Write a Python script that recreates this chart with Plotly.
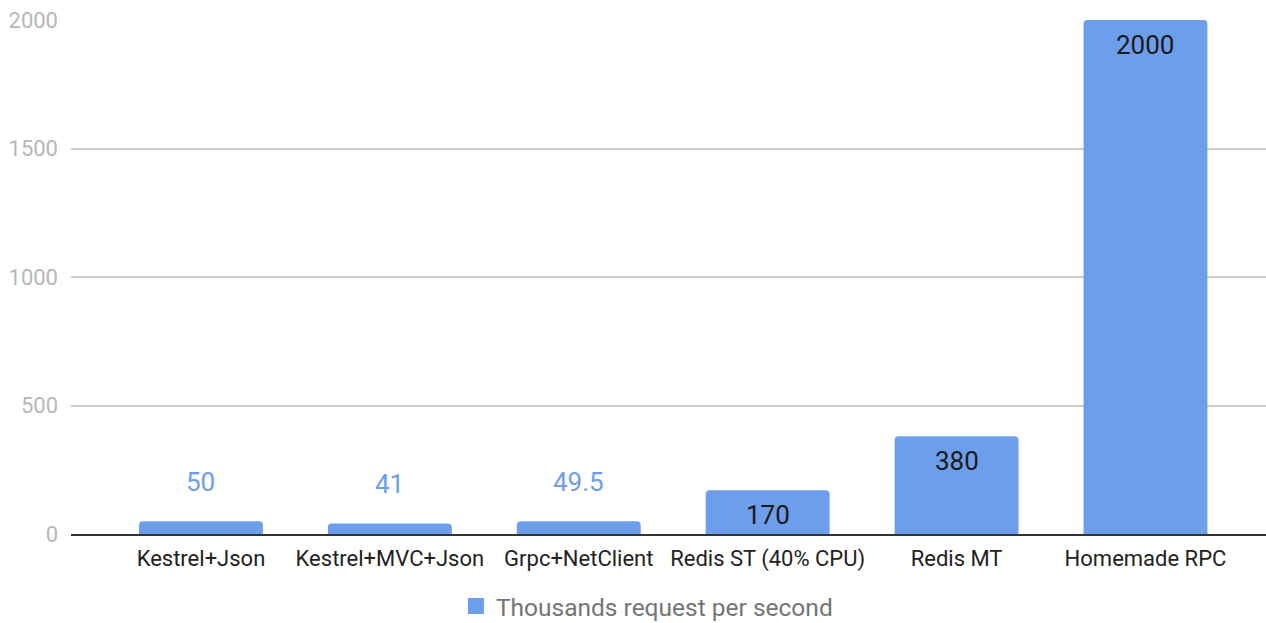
import plotly.graph_objects as go

categories = ["Kestrel+Json", "Kestrel+MVC+Json", "Grpc+NetClient",
              "Redis ST (40% CPU)", "Redis MT", "Homemade RPC"]
values = [50, 41, 49.5, 170, 380, 2000]
labels = ["50", "41", "49.5", "170", "380", "2000"]
series_name = "Thousands request per second"
y_ticks = [0, 500, 1000, 1500, 2000]

BLUE = "#6d9eeb"
FONT = "Roboto"

fig = go.Figure()
fig.add_trace(go.Bar(
    x=categories, y=values, name=series_name,
    marker=dict(color=BLUE, line=dict(width=0)),
    showlegend=False, legendgroup="s",
))
# legend entry (square swatch) for the bar series
fig.add_trace(go.Scatter(
    x=[None], y=[None], mode="markers", name=series_name, legendgroup="s",
    marker=dict(symbol="square", size=26, color=BLUE),
    showlegend=True,
))

for cat, v, lab in zip(categories, values, labels):
    inside = v >= 100
    fig.add_annotation(
        x=cat, y=v, xref="x", yref="y", text=lab, showarrow=False,
        yanchor="middle", yshift=-25 if inside else 39,
        font=dict(family=FONT, size=26, color="#1a1a1a" if inside else BLUE),
    )

fig.update_layout(
    width=1266, height=623,
    margin=dict(l=71, r=0, t=20, b=89),
    paper_bgcolor="white", plot_bgcolor="white",
    font=dict(family=FONT),
    bargap=0.344,
    barcornerradius=4,
    legend=dict(
        orientation="h", xref="container", yref="container",
        x=0.511, xanchor="center", y=0.027, yanchor="middle",
        font=dict(family=FONT, size=24.5, color="#757575"),
        itemwidth=30,
    ),
)
fig.update_xaxes(
    type="category", range=[-0.688, 5.638],
    showline=True, linecolor="#333333", linewidth=1.5,
    showgrid=False, ticks="", ticklabelstandoff=4,
    tickfont=dict(family=FONT, size=22, color="#222222"),
)
fig.update_yaxes(
    range=[0, 2000], tickvals=y_ticks,
    showgrid=True, gridcolor="#cccccc", gridwidth=1.5,
    zeroline=False, showline=False, ticks="", ticklabelstandoff=12,
    tickfont=dict(family=FONT, size=22, color="#b7b7b7"),
)

fig.write_html("out.html")
